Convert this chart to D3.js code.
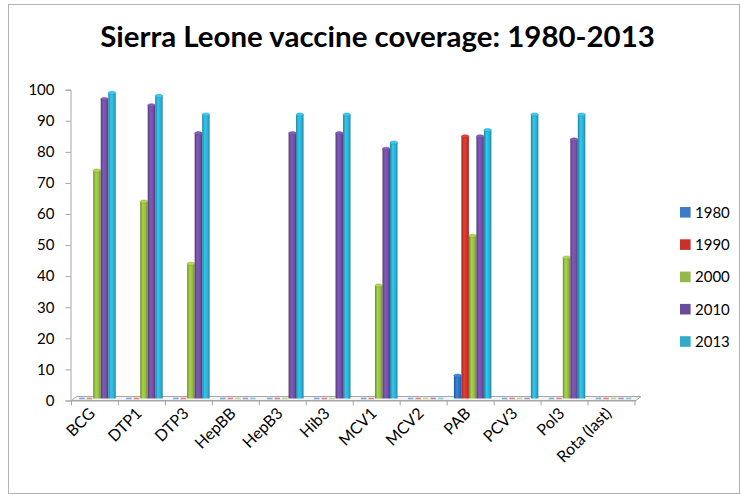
<!DOCTYPE html>
<html><head><meta charset="utf-8">
<script src="https://cdn.jsdelivr.net/npm/d3@7"></script>
<style>body{margin:0;background:#fff}svg{display:block}text{font-family:Lato,"Open Sans",sans-serif}</style>
</head><body>
<svg id="c" width="741" height="495"></svg>
<script>
const categories = ["BCG","DTP1","DTP3","HepBB","HepB3","Hib3","MCV1","MCV2","PAB","PCV3","Pol3","Rota (last)"];
const years = ["1980","1990","2000","2010","2013"];
const v1980 = [0,0,0,0,0,0,0,0,8,0,0,0];
const v1990 = [0,0,0,0,0,0,0,0,85,0,0,0];
const v2000 = [74,64,44,0,0,0,37,0,53,0,46,0];
const v2010 = [97,95,86,0,86,86,81,0,85,0,84,0];
const v2013 = [99,98,92,0,92,92,83,0,87,92,92,0];
const yTicks = [0,10,20,30,40,50,60,70,80,90,100];
const series = [v1980,v1990,v2000,v2010,v2013];
const colors = ["#2f74c6","#d2352d","#96bf3f","#7650a6","#2db2d6"];
const legendColors = ["#3b7bc8","#c8302b","#93b94a","#6b4c9a","#31a9c9"];

const svg = d3.select("#c");
svg.append("rect").attr("x",8.5).attr("y",4.5).attr("width",731).attr("height",489)
  .attr("fill","#fff").attr("stroke","#b4b4b4").attr("stroke-width",1);

const defs = svg.append("defs");
colors.forEach((c,i)=>{
  const g = defs.append("linearGradient").attr("id","g"+i).attr("x1","0").attr("x2","1").attr("y1","0").attr("y2","0");
  const col = d3.color(c);
  g.append("stop").attr("offset","0%").attr("stop-color",col.darker(0.9));
  g.append("stop").attr("offset","35%").attr("stop-color",col.brighter(0.3));
  g.append("stop").attr("offset","70%").attr("stop-color",col);
  g.append("stop").attr("offset","100%").attr("stop-color",col.darker(0.8));
});

const y = d3.scaleLinear().domain([0,100]).range([400.5,89.7]);
const x0 = d3.scaleBand().domain(categories).range([71.5,635]).padding(0);
const barW = 7.5;
const x1 = d3.scaleBand().domain(years).range([0, barW*years.length]).padding(0);
const groupOff = (x0.bandwidth() - barW*years.length)/2 + 2;

// floor (3D)
const fx0 = 71.5, fx1 = 636, depth = 5;
svg.append("path")
  .attr("d",`M${fx0},${y(0)} L${fx0+depth},${y(0)-4} L${fx1+depth},${y(0)-4} L${fx1},${y(0)} Z`)
  .attr("fill","#f4f4f4").attr("stroke","#a6a6a6").attr("stroke-width",1);

// y axis
const yAxis = d3.axisLeft(y).tickValues(yTicks).tickSize(5).tickPadding(11);
const ya = svg.append("g").attr("transform","translate(70.5,0)").call(yAxis);
ya.attr("font-size",null).attr("font-family",null);
ya.select(".domain").attr("stroke","#a6a6a6");
ya.selectAll(".tick line").attr("stroke","#a6a6a6");
ya.selectAll(".tick text").attr("font-size",15).attr("fill","#000").attr("font-family","Lato,sans-serif");

// x axis ticks
const xa = svg.append("g");
const tickXs = categories.map(c=>x0(c)).concat([x0.range()[1]]);
xa.selectAll("line").data(tickXs).join("line")
  .attr("x1",d=>d).attr("x2",d=>d).attr("y1",y(0)).attr("y2",y(0)+5)
  .attr("stroke","#a6a6a6");
xa.append("line").attr("x1",fx0).attr("x2",fx1).attr("y1",y(0)+0.5).attr("y2",y(0)+0.5).attr("stroke","#a6a6a6");
xa.selectAll("text").data(categories).join("text")
  .attr("transform",d=>`translate(${x0(d)+x0.bandwidth()/2+1},${y(0)+14}) rotate(-45)`)
  .attr("text-anchor","end").attr("font-size",16).attr("fill","#000").text(d=>d);

// bars
const floorY = y(0) - 2;
categories.forEach((cat,ci)=>{
  years.forEach((yr,si)=>{
    const v = series[si][ci];
    const bx = x0(cat) + groupOff + x1(yr);
    if (v === 0) {
      svg.append("rect").attr("x",bx+1).attr("y",floorY-0.8).attr("width",barW-2).attr("height",1.6)
        .attr("fill",colors[si]).attr("opacity",0.6);
      return;
    }
    const top = y(v);
    svg.append("rect").attr("x",bx).attr("y",top).attr("width",barW).attr("height",floorY-top)
      .attr("fill",`url(#g${si})`);
    svg.append("ellipse").attr("cx",bx+barW/2).attr("cy",top).attr("rx",barW/2).attr("ry",1.6)
      .attr("fill",d3.color(colors[si]).brighter(0.4)).attr("stroke",d3.color(colors[si]).darker(0.5)).attr("stroke-width",0.5);
  });
});

// title
const title = svg.append("text").attr("x",377.5).attr("y",47).attr("text-anchor","middle")
  .attr("font-weight","bold").attr("font-size",26).attr("fill","#000")
  .text("Sierra Leone vaccine coverage: 1980-2013");
const tw = title.node().getComputedTextLength();
title.attr("font-size", 26*555/tw);

// legend
const lg = svg.append("g");
years.forEach((yr,i)=>{
  const cy = 212.3 + i*32.3;
  lg.append("rect").attr("x",680).attr("y",cy-5.3).attr("width",10.6).attr("height",10.6).attr("fill",legendColors[i]);
  lg.append("text").attr("x",695).attr("y",cy+5.3).attr("font-size",15).attr("fill","#000").text(yr);
});
</script>
</body></html>
